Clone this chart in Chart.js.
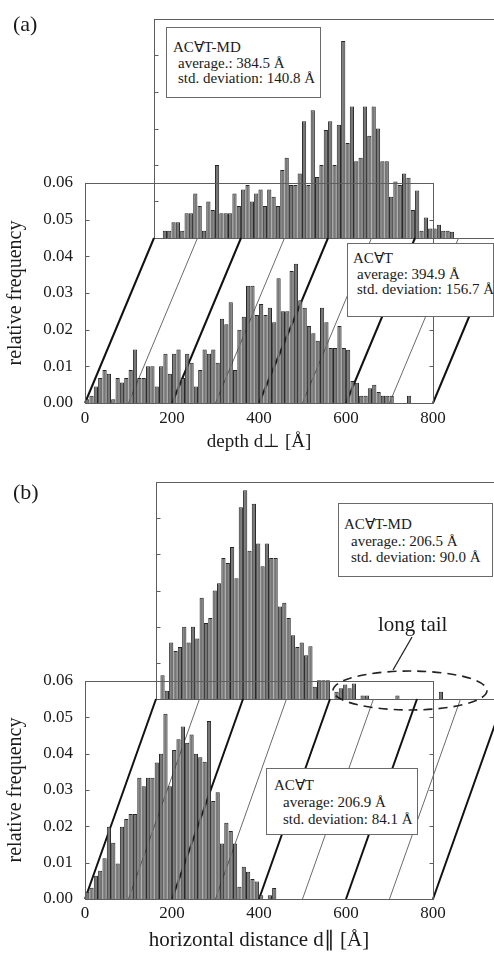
<!DOCTYPE html>
<html>
<head>
<meta charset="utf-8">
<script src="https://cdn.jsdelivr.net/npm/chart.js@4.4.1/dist/chart.umd.min.js"></script>
<style>
html,body{margin:0;padding:0;background:#fff;overflow:hidden;width:494px;height:953px;}
body{position:relative;font-family:'Liberation Serif','Times New Roman',serif;color:#1a1a1a;}
canvas{position:absolute;left:0;}
.lbl{position:absolute;white-space:nowrap;z-index:5;}
.box{position:absolute;border:1px solid #6a6a6a;background:#fff;box-sizing:border-box;z-index:5;}
.box div{position:absolute;white-space:nowrap;font-size:15px;line-height:17px;}
</style>
</head>
<body>
<canvas id="backA" width="520" height="460" style="top:0;z-index:1"></canvas>
<canvas id="frontA" width="520" height="460" style="top:0;z-index:2"></canvas>
<canvas id="backB" width="520" height="488" style="top:465px;z-index:1"></canvas>
<canvas id="frontB" width="520" height="488" style="top:465px;z-index:2"></canvas>

<div class="lbl" style="left:13px;top:12.6px;font-size:22px;line-height:22px;">(a)</div>
<div class="lbl" style="left:13px;top:481px;font-size:22px;line-height:22px;">(b)</div>
<div class="lbl" style="left:378px;top:614.4px;font-size:21px;line-height:21px;">long tail</div>

<div class="box" style="left:166px;top:27px;width:155px;height:71px;">
  <div style="left:6px;top:11px;">AC∀T-MD</div>
  <div style="left:11px;top:27px;">average.: 384.5 Å</div>
  <div style="left:11px;top:42px;">std. deviation: 140.8 Å</div>
</div>
<div class="box" style="left:347px;top:243px;width:147px;height:74px;">
  <div style="left:5px;top:5.5px;">AC∀T</div>
  <div style="left:9px;top:21.5px;">average: 394.9 Å</div>
  <div style="left:9px;top:36.5px;">std. deviation: 156.7 Å</div>
</div>
<div class="box" style="left:338px;top:503px;width:155px;height:74px;">
  <div style="left:5px;top:11.5px;">AC∀T-MD</div>
  <div style="left:12px;top:28.5px;">average.: 206.5 Å</div>
  <div style="left:12px;top:44.5px;">std. deviation: 90.0 Å</div>
</div>
<div class="box" style="left:266px;top:768px;width:152px;height:67px;">
  <div style="left:7px;top:7.5px;">AC∀T</div>
  <div style="left:16px;top:24.5px;">average: 206.9 Å</div>
  <div style="left:16px;top:41.5px;">std. deviation: 84.1 Å</div>
</div>

<script>
// ---------- data (relative frequency per 10 Å bin) ----------
const binCenters = Array.from({length: 80}, (_, i) => 5 + 10 * i); // Å, bins 0-10, 10-20, ... 790-800

// (a) depth d⊥, ACVT (front histogram)
const depthACVT = [
  0.001,0.002,0.0045,0.0068,0.009,0.008,0.001,0.0068,0.0056,0.0068,
  0.009,0.0146,0.0068,0.0068,0.010,0.010,0.0045,0.010,0.0134,0.008,
  0.0134,0.0146,0.0068,0.0134,0.011,0.0045,0.009,0.0146,0.0134,0.0146,
  0.011,0.023,0.0215,0.0275,0.009,0.020,0.0235,0.032,0.032,0.024,
  0.027,0.024,0.026,0.022,0.034,0.025,0.025,0.036,0.038,0.028,
  0.026,0.021,0.019,0.017,0.026,0.022,0.015,0.015,0.021,0.015,
  0.0145,0.006,0.0055,0.002,0.002,0.004,0.005,0.003,0.002,0.002,
  0.002,0,0,0,0.002,0,0,0,0,0
];
// (a) depth d⊥, ACVT-MD (back histogram)
const depthACVTMD = [
  0,0,0.002,0.002,0.0043,0.0043,0.002,0.0068,0.0068,0.0122,
  0.0088,0.002,0.010,0.0077,0.020,0.0068,0.0068,0.0068,0.0122,0.0088,
  0.0133,0.0145,0.010,0.0122,0.0133,0.0088,0.0133,0.0113,0.0088,0.0186,
  0.022,0.0145,0.0145,0.0177,0.032,0.0145,0.035,0.0167,0.020,0.0296,
  0.032,0.020,0.031,0.054,0.026,0.036,0.021,0.022,0.036,0.028,
  0.036,0.030,0.021,0.021,0.0113,0.0155,0.0145,0.0177,0.0165,0.0077,
  0.013,0.002,0.0056,0.0026,0.0026,0.0036,0.002,0.002,0.0017,0,
  0,0,0,0,0,0,0,0,0,0
];
// (b) horizontal distance d∥, ACVT (front histogram)
const horizACVT = [
  0.002,0.0031,0.0064,0.0078,0.0112,0.0199,0.0155,0.0098,0.0199,0.022,
  0.0234,0.0234,0.0334,0.031,0.0334,0.0334,0.0376,0.040,0.051,0.031,
  0.041,0.044,0.0475,0.043,0.0453,0.040,0.039,0.0378,0.049,0.027,
  0.0294,0.0153,0.021,0.0187,0.0153,0.0034,0.0089,0.0075,0.0055,0.0048,
  0.001,0,0.001,0.003,0,0,0,0,0,0,
  0,0,0,0,0,0,0,0,0,0,
  0,0,0,0,0,0,0,0,0,0,
  0,0,0,0,0,0,0,0,0,0
];
// (b) horizontal distance d∥, ACVT-MD (back histogram)
const horizACVTMD = [
  0,0.0066,0.0023,0.0156,0.0133,0.0144,0.020,0.0156,0.020,0.0167,
  0.028,0.021,0.0224,0.030,0.032,0.039,0.0376,0.042,0.0334,0.053,
  0.0577,0.041,0.054,0.043,0.0367,0.043,0.039,0.039,0.0256,0.0266,
  0.0224,0.0176,0.0144,0.0156,0.0121,0.0146,0.0034,0.0052,0.0052,0.0052,
  0,0.002,0.003,0.004,0.003,0.0043,0,0.001,0.001,0,
  0,0,0,0,0,0.001,0,0,0,0,
  0,0,0,0,0,0.002,0,0,0,0,
  0,0,0,0,0,0,0,0,0,0
];

const xTickValues = [0, 200, 400, 600, 800];
const xTickLabels = ['0', '200', '400', '600', '800'];
const yTickLabels = ['0.00', '0.01', '0.02', '0.03', '0.04', '0.05', '0.06'];
const innerTickValues = [0.01, 0.02, 0.03, 0.04, 0.05];
const guideValues = [0, 100, 200, 300, 400, 500, 600, 700, 800];

// ---------- styling ----------
const FONT = "'Liberation Serif', 'Times New Roman', serif";
const INK = '#1a1a1a';
const barFill = '#777777';
const barEdge = '#262626';
const frameColor = '#5e5e5e';
Chart.defaults.font.family = FONT;
Chart.defaults.color = INK;

function drawFrame(chart, rightTicks) {
  const {ctx, chartArea: a, scales: {y}} = chart;
  ctx.save();
  ctx.strokeStyle = frameColor;
  ctx.lineWidth = 1;
  const L = Math.round(a.left) + 0.5, T = Math.round(a.top) + 0.5;
  const R = Math.round(a.right) + 0.5, B = Math.round(a.bottom) + 0.5;
  ctx.strokeRect(L, T, R - L, B - T);
  ctx.beginPath();
  innerTickValues.forEach(v => {
    const py = Math.round(y.getPixelForValue(v)) + 0.5;
    ctx.moveTo(L, py); ctx.lineTo(L + 4, py);
    if (rightTicks) { ctx.moveTo(R, py); ctx.lineTo(R - 4, py); }
  });
  ctx.stroke();
  ctx.restore();
}

function backChart(id, values, padding) {
  return new Chart(document.getElementById(id), {
    type: 'bar',
    data: { datasets: [{
      data: binCenters.map((c, i) => ({x: c, y: values[i]})),
      backgroundColor: barFill, borderColor: barEdge, borderWidth: 1,
      categoryPercentage: 1, barPercentage: 0.97
    }]},
    options: {
      responsive: false, animation: false, devicePixelRatio: 1,
      layout: { padding },
      plugins: { legend: {display: false}, tooltip: {enabled: false} },
      scales: {
        x: { type: 'linear', min: 0, max: 800, offset: false, display: false, grid: {offset: false} },
        y: { type: 'linear', min: 0, max: 0.06, display: false }
      }
    },
    plugins: [{ id: 'backFrame', beforeDatasetsDraw(chart) { drawFrame(chart, false); } }]
  });
}

function frontChart(id, values, back, cfg) {
  return new Chart(document.getElementById(id), {
    type: 'bar',
    data: { datasets: [{
      data: binCenters.map((c, i) => ({x: c, y: values[i]})),
      backgroundColor: barFill, borderColor: barEdge, borderWidth: 1,
      categoryPercentage: 1, barPercentage: 0.97
    }]},
    options: {
      responsive: false, animation: false, devicePixelRatio: 1,
      layout: { padding: cfg.padding },
      plugins: { legend: {display: false}, tooltip: {enabled: false} },
      scales: {
        x: {
          type: 'linear', min: 0, max: 800, offset: false,
          grid: {display: false, drawTicks: false, offset: false}, border: {display: false},
          ticks: { stepSize: 200, padding: cfg.xPad, autoSkip: false, maxRotation: 0,
                   color: INK, font: {family: FONT, size: 17},
                   callback: v => { const k = xTickValues.indexOf(Math.round(v)); return k >= 0 ? xTickLabels[k] : ''; } },
          title: { display: true, text: cfg.xTitle, color: INK,
                   font: {family: FONT, size: cfg.xTitleSize}, padding: {top: 0, bottom: 0} },
          afterFit: s => { s.height = cfg.xAxisH; }
        },
        y: {
          type: 'linear', min: 0, max: 0.06,
          grid: {display: false, drawTicks: false}, border: {display: false},
          ticks: { stepSize: 0.01, padding: 12, color: INK, font: {family: FONT, size: 17},
                   callback: v => yTickLabels[Math.round(v * 100)] },
          title: { display: true, text: 'relative frequency', color: INK,
                   font: {family: FONT, size: 20}, padding: {top: 4, bottom: 0} },
          afterFit: s => { s.width = 85; }
        }
      }
    },
    plugins: [{
      id: 'guides',
      beforeDatasetsDraw(chart) {
        const ctx = chart.ctx;
        ctx.save();
        guideValues.forEach(v => {
          const thick = v % 200 === 0;
          ctx.beginPath();
          ctx.lineWidth = thick ? 2 : 1;
          ctx.strokeStyle = thick ? '#111' : '#6a6a6a';
          ctx.moveTo(chart.scales.x.getPixelForValue(v), chart.chartArea.bottom);
          ctx.lineTo(back.scales.x.getPixelForValue(v), back.chartArea.bottom);
          ctx.stroke();
        });
        ctx.restore();
      },
      afterDatasetsDraw(chart) {
        drawFrame(chart, true);
        if (cfg.extra) cfg.extra(chart);
      }
    }]
  });
}

const backA = backChart('backA', depthACVTMD, {left: 154, top: 19, right: 18, bottom: 222});
const frontA = frontChart('frontA', depthACVT, backA, {
  padding: {left: 0, top: 183, right: 87, bottom: 7},
  xAxisH: 50, xPad: 5, xTitle: 'depth d\u22A5 [Å]', xTitleSize: 19
});

const backB = backChart('backB', horizACVTMD, {left: 156, top: 17, right: 16, bottom: 254});
const frontB = frontChart('frontB', horizACVT, backB, {
  padding: {left: 0, top: 216, right: 87, bottom: 0},
  xAxisH: 54, xPad: 4, xTitle: 'horizontal distance d\u2225 [Å]', xTitleSize: 21,
  extra(chart) {
    // "long tail" annotation: leader line and dashed ellipse (panel offset 465 px)
    const ctx = chart.ctx;
    ctx.save();
    ctx.strokeStyle = '#222';
    ctx.lineWidth = 1.3;
    ctx.beginPath();
    ctx.moveTo(412, 637 - 465);
    ctx.lineTo(393, 670 - 465);
    ctx.stroke();
    ctx.setLineDash([9, 6]);
    ctx.lineWidth = 1.6;
    ctx.beginPath();
    ctx.ellipse(410, 690.5 - 465, 77, 19.5, 0, 0, Math.PI * 2);
    ctx.stroke();
    ctx.restore();
  }
});
</script>
</body>
</html>
